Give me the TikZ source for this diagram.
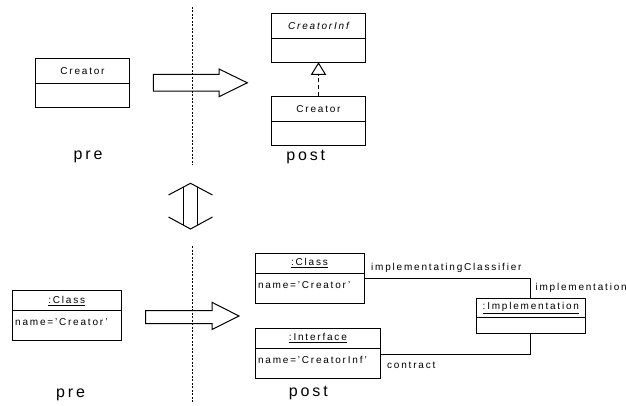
\documentclass[tikz,border=0pt]{standalone}
\usepackage{fontspec}
\setmainfont[LetterSpace=18]{Liberation Sans}
\usepackage{tikz}
\usetikzlibrary{arrows.meta}
\usetikzlibrary{positioning}
\tikzset{
    classname/.style={draw=black, minimum width=94pt, minimum height=25pt, inner sep=0pt, outer sep=0pt,
        font=\fontsize{10}{12}\selectfont},
    classbody/.style={draw=black, minimum width=94pt, minimum height=24pt, inner sep=0pt, outer sep=0pt},
    objname/.style={draw=black, minimum width=#1, minimum height=20pt, inner sep=0pt, outer sep=0pt,
        font=\fontsize{10}{12}\selectfont},
    objbody/.style={draw=black, text width=#1, inner xsep=3pt, inner ysep=0pt, outer sep=0pt, align=left,
        text height=15pt, text depth=15pt, font=\fontsize{10}{12}\selectfont},
    realize/.style={draw=black, dash pattern=on 4pt off 3pt,
        -{Triangle[open,length=12.7pt,width=15.3pt]}},
    link/.style={draw=black},
    role/.style={anchor=west, inner sep=0pt, font=\fontsize{10}{12}\selectfont},
    phase/.style={inner sep=0pt, font=\fontsize{16}{18}\selectfont},
    bigarrow/.style={draw=black, line width=1pt},
    border/.style={draw=black, line width=0.8pt, dash pattern=on 2pt off 1.5pt},
}

\begin{document}
\begin{tikzpicture}[x=1pt, y=-1pt, line width=1pt]
	\useasboundingbox (0,0) rectangle (626,406);
	% pre / post borders
	\draw[border] (192.3,6.7)--(192.3,165);
	\draw[border] (192.3,246)--(192.3,403.3);
	% class diagram
	\node[classname] (creatorPre) at (82.5,71.2) {Creator};
	\node[classbody, below=0pt of creatorPre] (creatorPreBody) {};
	\node[phase] (preTop) at (88,156.7) {pre};
	\draw[bigarrow] (153.3,74.3)--(219,74.3)--(219,69)--(247.3,82.8)--(219,96.7)--(219,91.2)--(153.3,91.2)--cycle;
	\node[classname] (creatorInf) at (318.5,25.7) {\itshape CreatorInf};
	\node[classbody, below=0pt of creatorInf] (creatorInfBody) {};
	\node[classname] (creatorPost) at (318.5,109) {Creator};
	\node[classbody, below=0pt of creatorPost] (creatorPostBody) {};
	\draw[realize] (creatorPost.north)--(creatorInfBody.south);
	\node[phase] (postTop) at (305.7,156.7) {post};
	% equivalence
	\draw (168.5,195)--(190.5,183.3)--(212.5,195);
	\draw (183.3,187.2)--(183.3,224.9);
	\draw (197.7,187.2)--(197.7,224.9);
	\draw (168.5,217)--(190.5,229)--(212.5,217);
	% object diagram
	\node[objname=109pt] (classPre) at (66.7,300.8) {\underline{:Class}};
	\node[objbody=103pt, below=0pt of classPre] (classPreBody) {name='Creator'};
	\node[phase] (preBottom) at (70.5,395) {pre};
	\draw[bigarrow] (145.7,310.5)--(212,310.5)--(212,302.3)--(239,316)--(212,329.5)--(212,323.5)--(145.7,323.5)--cycle;
	\node[objname=109pt] (classPost) at (309.5,263.3) {\underline{:Class}};
	\node[objbody=103pt, below=0pt of classPost] (classPostBody) {name='Creator'};
	\node[objname=125.7pt] (iface) at (317.9,338) {\underline{:Interface}};
	\node[objbody=119.7pt, below=0pt of iface] (ifaceBody) {name='CreatorInf'};
	\node[objname=108.3pt, minimum height=19pt] (impl) at (530.85,307.8) {\underline{:Implementation}};
	\node[draw=black, minimum width=108.3pt, minimum height=16pt, inner sep=0pt, outer sep=0pt, below=0pt of impl] (implBody) {};
	\draw[link] (classPostBody.10) -| (impl.north);
	\draw[link] (implBody.south) |- (ifaceBody.8.5);
	\node[role] (lblClassifier) at (370.7,268.3) {implementatingClassifier};
	\node[role] (lblImpl) at (535,287.7) {implementation};
	\node[role] (lblContract) at (386.7,365) {contract};
	\node[phase] (postBottom) at (308.3,393.3) {post};
\end{tikzpicture}
\end{document}
